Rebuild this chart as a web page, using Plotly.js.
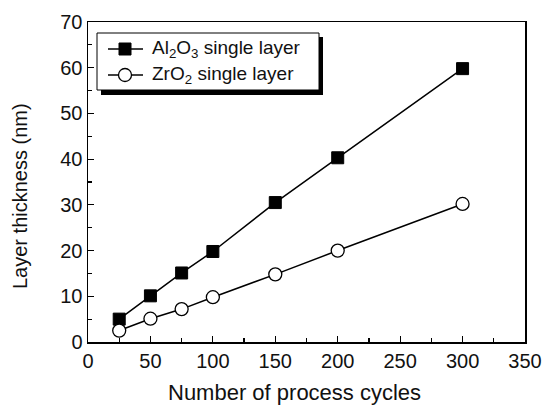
<!DOCTYPE html>
<html><head><meta charset="utf-8">
<script src="https://cdn.plot.ly/plotly-3.0.1.min.js"></script>
<style>body{margin:0;background:#fff}</style>
</head><body>
<div id="chart" style="width:543px;height:406px"></div>
<script>
const cycles = [25, 50, 75, 100, 150, 200, 300];
const al2o3 = [5.0, 10.1, 15.1, 19.8, 30.5, 40.3, 59.8];
const zro2 = [2.5, 5.1, 7.2, 9.8, 14.8, 20.0, 30.2];
const seriesNames = ["Al<sub>2</sub>O<sub>3</sub> single layer", "ZrO<sub>2</sub> single layer"];
const xTitle = "Number of process cycles";
const yTitle = "Layer thickness (nm)";

const fam = "Liberation Sans, Arial, sans-serif";
const f = (s) => ({family: fam, size: s, color: "#111"});

const L = 88, R = 525, T = 22, B = 342;
const W = 543, H = 406;
const px = v => (v - L) / (R - L);
const py = v => (B - v) / (B - T);

const sq = {symbol: "square", size: 12, color: "#000", line: {color: "#000", width: 1}};
const ci = {symbol: "circle", size: 13, color: "#fff", line: {color: "#000", width: 1.3}};

const traces = [
  {x: cycles, y: al2o3, name: seriesNames[0], mode: "lines+markers", showlegend: false,
   line: {color: "#000", width: 1.5}, marker: sq, cliponaxis: false},
  {x: cycles, y: zro2, name: seriesNames[1], mode: "lines+markers", showlegend: false,
   line: {color: "#000", width: 1.5}, marker: ci, cliponaxis: false},
  // legend sample symbols (paper-space overlay axes)
  {x: [px(125)], y: [py(49)], xaxis: "x2", yaxis: "y2", mode: "markers", showlegend: false,
   marker: sq, cliponaxis: false, hoverinfo: "skip"},
  {x: [px(125)], y: [py(75)], xaxis: "x2", yaxis: "y2", mode: "markers", showlegend: false,
   marker: ci, cliponaxis: false, hoverinfo: "skip"}
];

const layout = {
  width: W, height: H,
  margin: {l: L, r: W - R, t: T, b: H - B, pad: 0},
  paper_bgcolor: "#fff", plot_bgcolor: "#fff",
  font: f(20),
  showlegend: false,
  xaxis: {range: [0, 350], dtick: 50, tick0: 0, ticks: "inside", ticklen: 6, tickwidth: 1.2,
    tickcolor: "#000", showline: true, linecolor: "#000", linewidth: 1.5, mirror: true,
    showgrid: false, zeroline: false,
    minor: {dtick: 25, ticks: "inside", ticklen: 4, tickcolor: "#000", showgrid: false},
    tickfont: f(20)},
  yaxis: {range: [0, 70], dtick: 10, tick0: 0, ticks: "inside", ticklen: 6, tickwidth: 1.2,
    tickcolor: "#000", showline: true, linecolor: "#000", linewidth: 1.5, mirror: true,
    showgrid: false, zeroline: false,
    minor: {dtick: 5, ticks: "inside", ticklen: 4, tickcolor: "#000", showgrid: false},
    tickfont: f(20)},
  xaxis2: {overlaying: "x", range: [0, 1], visible: false, fixedrange: true},
  yaxis2: {overlaying: "y", range: [0, 1], visible: false, fixedrange: true},
  shapes: [
    {type: "rect", xref: "paper", yref: "paper", x0: px(101), x1: px(323), y0: py(95), y1: py(37),
     fillcolor: "#000", line: {width: 0}, layer: "below"},
    {type: "rect", xref: "paper", yref: "paper", x0: px(97), x1: px(319), y0: py(90), y1: py(33),
     fillcolor: "#fff", line: {color: "#000", width: 1}, layer: "below"},
    {type: "line", xref: "paper", yref: "paper", x0: px(108), x1: px(143), y0: py(49), y1: py(49),
     line: {color: "#000", width: 1.5}, layer: "below"},
    {type: "line", xref: "paper", yref: "paper", x0: px(108), x1: px(143), y0: py(75), y1: py(75),
     line: {color: "#000", width: 1.5}, layer: "below"}
  ],
  annotations: [
    {xref: "paper", yref: "paper", x: px(150), y: py(49), xanchor: "left", yanchor: "middle",
     text: seriesNames[0], showarrow: false, font: f(19)},
    {xref: "paper", yref: "paper", x: px(150), y: py(75), xanchor: "left", yanchor: "middle",
     text: seriesNames[1], showarrow: false, font: f(19)},
    {xref: "paper", yref: "paper", x: px(294), y: py(392), xanchor: "center", yanchor: "middle",
     text: xTitle, showarrow: false, font: f(22)},
    {xref: "paper", yref: "paper", x: px(20), y: py(196), xanchor: "center", yanchor: "middle",
     text: yTitle, textangle: -90, showarrow: false, font: f(20)}
  ]
};
Plotly.newPlot("chart", traces, layout, {displayModeBar: false, staticPlot: true});
</script>
</body></html>
